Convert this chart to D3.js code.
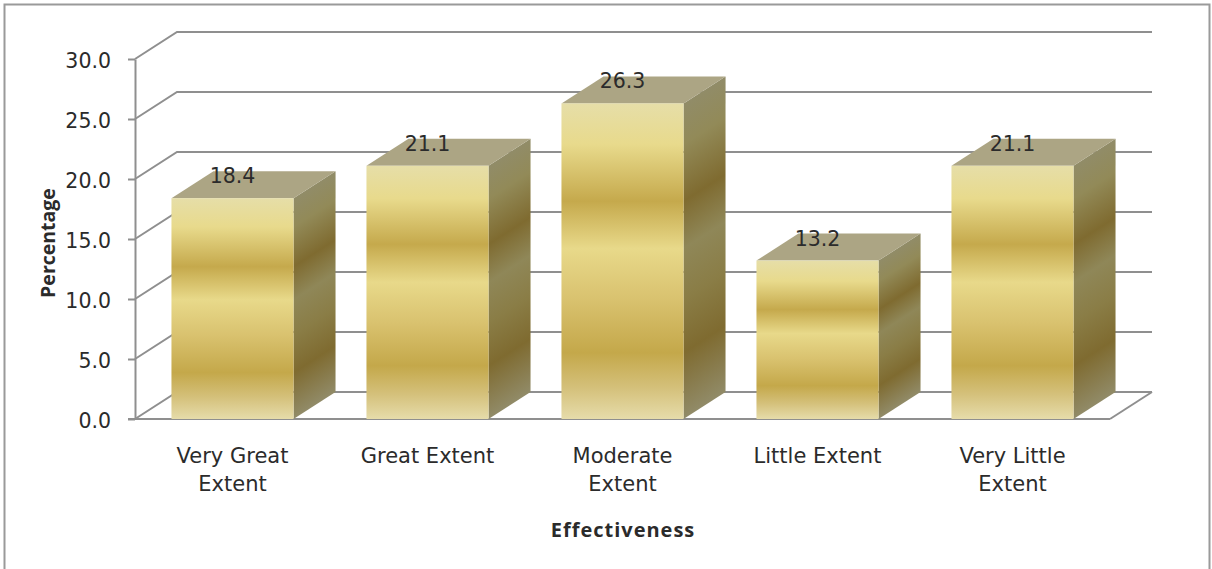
<!DOCTYPE html>
<html>
<head>
<meta charset="utf-8">
<script src="https://cdn.jsdelivr.net/npm/d3@7"></script>
<style>
  html, body { margin: 0; padding: 0; background: #fff; }
  svg { display: block; }
  text { font-family: "DejaVu Sans", sans-serif; fill: #2b2b2b; }
</style>
</head>
<body>
<svg id="chart" width="1212" height="569"></svg>
<script>
// Survey responses: perceived effectiveness, as a percentage of respondents
const categories = ["Very Great Extent", "Great Extent", "Moderate Extent", "Little Extent", "Very Little Extent"];
const categoryLines = [["Very Great", "Extent"], ["Great Extent"], ["Moderate", "Extent"], ["Little Extent"], ["Very Little", "Extent"]];
const percentages = [18.4, 21.1, 26.3, 13.2, 21.1];
const valueLabels = ["18.4", "21.1", "26.3", "13.2", "21.1"];
const yTicks = [0, 5, 10, 15, 20, 25, 30];

// Oblique projection of the 3D box: depth offset applied to the back faces
const depthX = 42, depthY = -27;
const lineColor = "#8f8f8f";

const svg = d3.select("#chart");
const x = d3.scaleBand().domain(categories).range([135, 1110]).paddingInner(0.374).paddingOuter(0.187);
const y = d3.scaleLinear().domain([0, 30]).range([419, 59]);

// Outer chart frame, open along the bottom edge
svg.append("path")
  .attr("d", "M4.5,569V4.5H1209.5V569")
  .attr("fill", "none").attr("stroke", "#9a9a9a").attr("stroke-width", 2);

// Banded gold gradients, one pair per bar
const defs = svg.append("defs");
const frontStops = [[0, "#e6dea8"], [0.13, "#e8da8c"], [0.31, "#c5a94c"], [0.46, "#e8d98a"], [0.62, "#d9c26f"], [0.79, "#c4a84a"], [0.9, "#d4c07a"], [1, "#e6dcaa"]];
const sideStops = [[0, "#918c68"], [0.13, "#928a58"], [0.31, "#7f6b30"], [0.46, "#8f8758"], [0.62, "#8a7d46"], [0.79, "#7f6b30"], [1, "#918b68"]];

function addStops(grad, stops) {
  grad.selectAll("stop").data(stops).join("stop")
    .attr("offset", d => d[0]).attr("stop-color", d => d[1]);
}

const front = defs.append("linearGradient").attr("id", "frontFill")
  .attr("x1", 0).attr("y1", 0).attr("x2", 0).attr("y2", 1);
addStops(front, frontStops);

percentages.forEach((v, i) => {
  // Side-face bands run along the depth direction, so the gradient axis is perpendicular to it
  const h = y(0) - y(v), len = Math.hypot(depthX, depthY);
  const nx = -depthY / len, ny = depthX / len, span = h * ny;
  const x0 = x(categories[i]) + x.bandwidth();
  const g = defs.append("linearGradient").attr("id", "sideFill" + i)
    .attr("gradientUnits", "userSpaceOnUse")
    .attr("x1", x0).attr("y1", y(v))
    .attr("x2", x0 + nx * span).attr("y2", y(v) + ny * span);
  addStops(g, sideStops);
});

// Back wall gridlines with their diagonals on the side wall
const grid = svg.append("g").attr("fill", "none").attr("stroke", lineColor).attr("stroke-width", 2);
grid.selectAll("path").data(yTicks).join("path")
  .attr("d", t => `M${x.range()[0]},${y(t)}L${x.range()[0] + depthX},${y(t) + depthY}H${x.range()[1] + depthX}`);

// Floor outline
grid.append("path")
  .attr("d", `M${x.range()[1]},${y(0)}L${x.range()[1] + depthX},${y(0) + depthY}`);

// Value axis
const yAxis = d3.axisLeft(y).tickValues(yTicks).tickFormat(d3.format(".1f")).tickSize(7).tickPadding(17).tickSizeOuter(0);
const yG = svg.append("g").attr("transform", `translate(${x.range()[0]},0)`).call(yAxis);
yG.selectAll("path,line").attr("stroke", lineColor).attr("stroke-width", 2);
yG.selectAll("text").attr("font-size", 20.5).attr("dy", "0.42em")
  .attr("font-family", '"DejaVu Sans", sans-serif').attr("fill", "#2b2b2b");

// Category axis baseline
svg.append("line")
  .attr("x1", x.range()[0] - 7).attr("x2", x.range()[1])
  .attr("y1", y(0)).attr("y2", y(0))
  .attr("stroke", lineColor).attr("stroke-width", 2);

// Bars: side face, top face, front face
const bars = svg.append("g").selectAll("g").data(percentages).join("g");
const left = (d, i) => x(categories[i]);
const right = (d, i) => left(d, i) + x.bandwidth();

bars.append("path")
  .attr("fill", (d, i) => `url(#sideFill${i})`)
  .attr("d", (d, i) => `M${right(d, i)},${y(d)}l${depthX},${depthY}V${y(0) + depthY}L${right(d, i)},${y(0)}Z`);
bars.append("path")
  .attr("fill", "#aca584")
  .attr("d", (d, i) => `M${left(d, i)},${y(d)}l${depthX},${depthY}H${right(d, i) + depthX}L${right(d, i)},${y(d)}Z`);
bars.append("rect")
  .attr("x", left).attr("y", d => y(d))
  .attr("width", x.bandwidth()).attr("height", d => y(0) - y(d))
  .attr("fill", "url(#frontFill)");

// Value labels sit on the top face of each bar
svg.append("g").selectAll("text").data(percentages).join("text")
  .attr("x", (d, i) => left(d, i) + x.bandwidth() / 2)
  .attr("y", d => y(d) - 15)
  .attr("text-anchor", "middle").attr("font-size", 20.5).attr("fill", "#1c1c1c")
  .text((d, i) => valueLabels[i]);

// Category labels, wrapped onto two lines where needed
svg.append("g").selectAll("text").data(categories).join("text")
  .attr("text-anchor", "middle").attr("font-size", 21)
  .each(function (c, i) {
    d3.select(this).selectAll("tspan").data(categoryLines[i]).join("tspan")
      .attr("x", x(c) + x.bandwidth() / 2)
      .attr("y", (l, k) => 463 + k * 28)
      .text(l => l);
  });

// Axis titles
svg.append("text").attr("x", 623).attr("y", 537)
  .attr("text-anchor", "middle").attr("font-size", 20).attr("font-weight", "bold").attr("fill", "#111")
  .style("font-family", '"Open Sans", sans-serif').style("letter-spacing", "1px")
  .text("Effectiveness");
svg.append("text").attr("transform", "translate(55,243) rotate(-90)")
  .attr("text-anchor", "middle").attr("font-size", 19.5).attr("font-weight", "bold").attr("fill", "#111")
  .style("font-family", '"Open Sans", sans-serif')
  .text("Percentage");
</script>
</body>
</html>
